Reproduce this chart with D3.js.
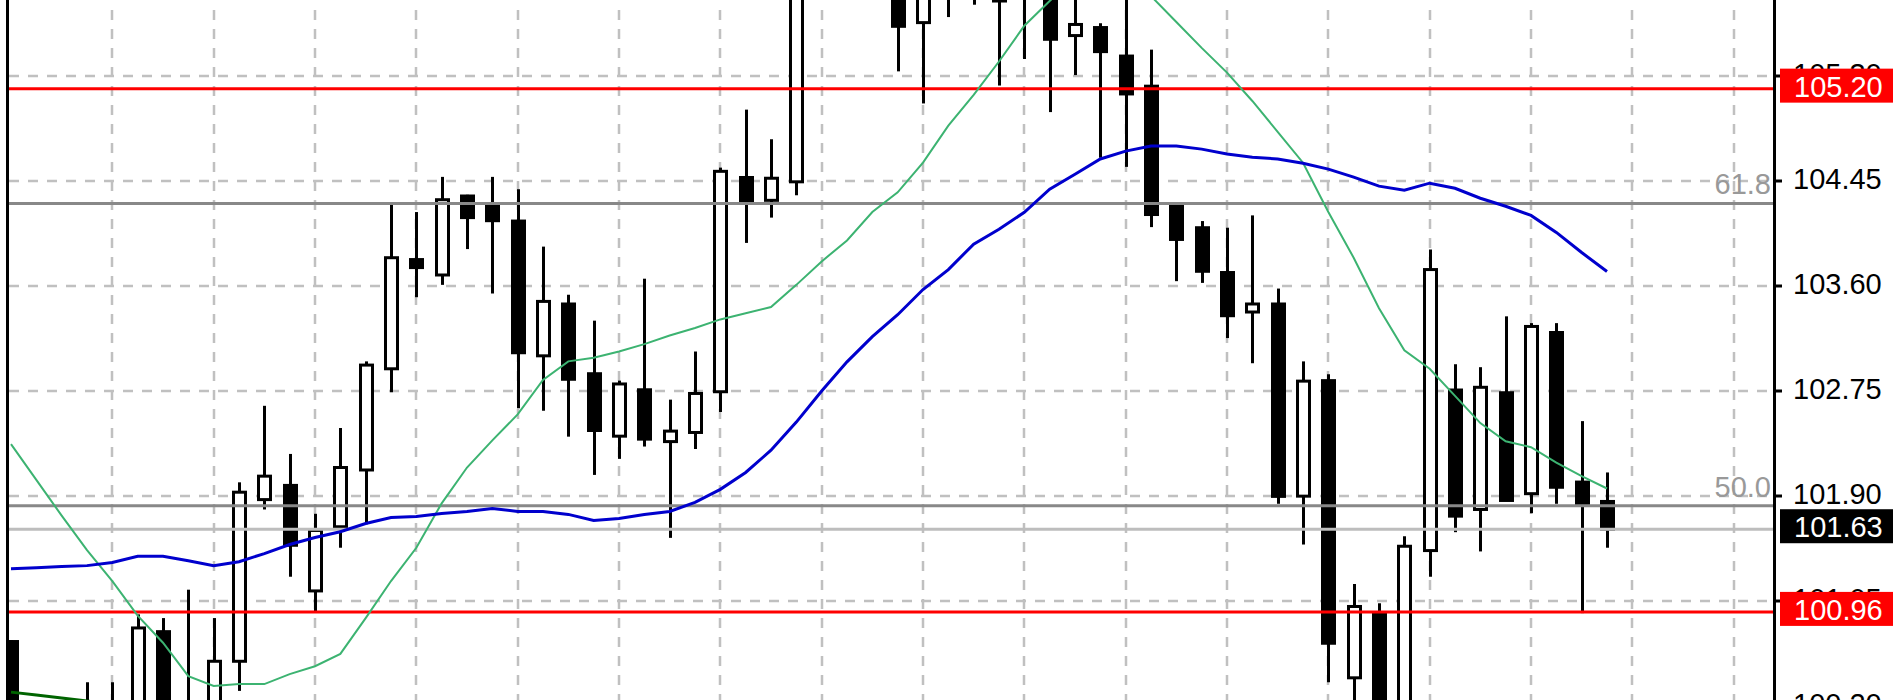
<!DOCTYPE html>
<html><head><meta charset="utf-8">
<script src="https://cdn.jsdelivr.net/npm/d3@7"></script>
<style>html,body{margin:0;padding:0;background:#fff;overflow:hidden}</style>
</head><body>
<svg id="chart" width="1900" height="700"></svg>
<script>
// ---- data (candle index 0..63) ----
const openP = [
  100.72, 100.05, 99.75, 99.95, 100.15, 100.05, 100.80, 100.12, 100.20, 100.56,
  101.87, 101.985, 101.13, 101.65, 102.11, 102.93, 103.815, 103.69, 104.33, 104.255,
  104.127, 103.035, 103.455, 102.89, 102.384, 102.76, 102.34, 102.414, 102.744, 104.48,
  104.295, 104.445, 106.10, 106.30, 106.15, 106.10, 105.735, 106.05, 106.10, 106.00,
  105.95, 106.00, 105.63, 105.695, 105.464, 105.22, 104.255, 104.073, 103.71, 103.39,
  103.455, 101.898, 102.834, 100.426, 100.94, 100.05, 101.457, 102.758, 101.79, 102.736,
  101.918, 103.224, 102.012, 101.855];
const highP = [
  100.73, 100.18, 100.10, 100.39, 100.39, 100.94, 100.91, 101.14, 100.91, 102.01,
  102.63, 102.24, 101.755, 102.45, 102.99, 104.26, 104.20, 104.485, 104.34, 104.485,
  104.385, 103.92, 103.53, 103.32, 102.834, 103.66, 102.68, 103.07, 104.56, 105.03,
  104.79, 106.20, 106.45, 106.50, 106.30, 106.20, 106.15, 106.25, 106.20, 106.10,
  106.15, 106.10, 105.98, 105.73, 105.96, 105.516, 104.26, 104.127, 104.073, 104.173,
  103.58, 102.99, 102.886, 101.186, 101.03, 101.573, 103.897, 102.967, 102.943, 103.355,
  103.30, 103.30, 102.506, 102.09];
const lowP = [
  99.95, 99.60, 99.55, 99.80, 99.90, 99.95, 100.00, 99.90, 100.10, 100.32,
  101.79, 101.245, 100.955, 101.48, 101.67, 102.74, 103.51, 103.61, 103.90, 103.54,
  102.61, 102.59, 102.38, 102.07, 102.20, 102.30, 101.56, 102.28, 102.58, 103.95,
  104.155, 104.336, 105.95, 106.00, 105.95, 105.34, 105.08, 105.78, 105.88, 105.225,
  105.44, 105.01, 105.31, 104.64, 104.566, 104.078, 103.64, 103.626, 103.179, 102.975,
  101.836, 101.506, 100.39, 100.10, 99.95, 99.98, 101.245, 101.606, 101.45, 101.86,
  101.76, 101.836, 100.95, 101.48];
const closeP = [
  100.05, 99.75, 99.95, 100.15, 100.05, 100.83, 100.12, 100.20, 100.56, 101.93,
  102.06, 101.50, 101.62, 102.13, 102.96, 103.83, 103.75, 104.30, 104.155, 104.13,
  103.06, 103.476, 102.845, 102.43, 102.807, 102.36, 102.425, 102.73, 104.53, 104.285,
  104.474, 106.10, 106.30, 106.15, 106.00, 105.705, 106.05, 106.10, 106.00, 105.91,
  106.05, 105.60, 105.72, 105.50, 105.157, 104.18, 103.978, 103.72, 103.36, 103.455,
  101.896, 102.83, 100.706, 101.004, 100.05, 101.492, 103.734, 101.736, 102.78, 101.863,
  103.273, 101.97, 101.836, 101.63];

const maFast = [
  102.32, 102.03, 101.74, 101.46, 101.21, 100.93, 100.71, 100.44, 100.36, 100.375,
  100.375, 100.456, 100.52, 100.62, 100.91, 101.21, 101.48, 101.84, 102.13, 102.35,
  102.56, 102.84, 102.99, 103.02, 103.07, 103.13, 103.20, 103.26, 103.33, 103.38,
  103.43, 103.61, 103.80, 103.97, 104.20, 104.36, 104.60, 104.90, 105.15, 105.42,
  105.71, 105.91, 106.10, 106.20, 106.15, 105.95, 105.74, 105.53, 105.33, 105.10,
  104.85, 104.60, 104.20, 103.83, 103.42, 103.08, 102.93, 102.71, 102.49, 102.343,
  102.295, 102.17, 102.06, 101.96];
const maSlow = [
  101.31, 101.318, 101.327, 101.335, 101.36, 101.41, 101.41, 101.375, 101.335, 101.367,
  101.432, 101.506, 101.563, 101.61, 101.676, 101.725, 101.733, 101.758, 101.774, 101.798,
  101.774, 101.774, 101.75, 101.70, 101.717, 101.75, 101.774, 101.847, 101.953, 102.09,
  102.27, 102.498, 102.75, 102.986, 103.19, 103.368, 103.572, 103.734, 103.94, 104.06,
  104.198, 104.385, 104.507, 104.63, 104.694, 104.735, 104.735, 104.71, 104.67, 104.645,
  104.63, 104.596, 104.548, 104.483, 104.41, 104.377, 104.434, 104.393, 104.312, 104.247,
  104.173, 104.035, 103.872, 103.718];
const maLong = [100.31, 100.286, 100.262, 100.238, 100.21, 100.18];

const tickValues = [105.30, 104.45, 103.60, 102.75, 101.90, 101.05, 100.20];
const tickLabels = ["105.30", "104.45", "103.60", "102.75", "101.90", "101.05", "100.20"];
const redLevels = [105.20, 100.96];
const redLabels = ["105.20", "100.96"];
const fibLevels = [104.27, 101.82];
const fibLabels = ["61.8", "50.0"];
const bidPrice = 101.63;
const bidLabel = "101.63";
const gridIdx = d3.range(4, 69, 4);

// ---- layout ----
const W = 1900, H = 700;
const plotL = 9, plotR = 1773, axisX = 1774.5;
const FONT = "'Liberation Sans', Arial, sans-serif";

const x = d3.scaleLinear().domain([0, 63]).range([11, 1607]);
const y = d3.scaleLinear().domain([100.20, 105.30]).range([705.7, 76.3]);

const svg = d3.select("#chart");
svg.append("rect").attr("width", W).attr("height", H).attr("fill", "#fff");

svg.append("defs").append("clipPath").attr("id", "plotclip")
  .append("rect").attr("x", plotL).attr("y", 0).attr("width", plotR - plotL).attr("height", H);

const plot = svg.append("g").attr("clip-path", "url(#plotclip)");

// grid
plot.append("g").selectAll("line").data(tickValues).join("line")
  .attr("x1", plotL).attr("x2", plotR)
  .attr("y1", d => Math.round(y(d))).attr("y2", d => Math.round(y(d)))
  .attr("stroke", "#c0c0c0").attr("stroke-width", 2.5).attr("stroke-dasharray", "10,9");
plot.append("g").selectAll("line").data(gridIdx).join("line")
  .attr("x1", d => Math.round(x(d))).attr("x2", d => Math.round(x(d)))
  .attr("y1", 10).attr("y2", H)
  .attr("stroke", "#c0c0c0").attr("stroke-width", 2.5).attr("stroke-dasharray", "10,9");

// candles
const idx = d3.range(openP.length);
const cg = plot.append("g");
cg.selectAll("line.wick").data(idx).join("line").attr("class", "wick")
  .attr("x1", i => Math.round(x(i)) + 0.5).attr("x2", i => Math.round(x(i)) + 0.5)
  .attr("y1", i => y(highP[i])).attr("y2", i => y(lowP[i]))
  .attr("stroke", "#000").attr("stroke-width", 3);
cg.selectAll("rect.body").data(idx).join("rect").attr("class", "body")
  .attr("x", i => Math.round(x(i)) - 5.5)
  .attr("width", 12)
  .attr("y", i => y(Math.max(openP[i], closeP[i])))
  .attr("height", i => Math.max(0.5, Math.abs(y(openP[i]) - y(closeP[i]))))
  .attr("fill", i => closeP[i] >= openP[i] ? "#fff" : "#000")
  .attr("stroke", "#000").attr("stroke-width", 3);

// horizontal levels
plot.selectAll("line.fib").data(fibLevels).join("line").attr("class", "fib")
  .attr("x1", plotL).attr("x2", plotR)
  .attr("y1", d => y(d)).attr("y2", d => y(d))
  .attr("stroke", "#888").attr("stroke-width", 3);
plot.append("line").attr("x1", plotL).attr("x2", plotR)
  .attr("y1", y(bidPrice)).attr("y2", y(bidPrice))
  .attr("stroke", "#bdbdbd").attr("stroke-width", 3);
plot.selectAll("line.red").data(redLevels).join("line").attr("class", "red")
  .attr("x1", plotL).attr("x2", plotR)
  .attr("y1", d => y(d)).attr("y2", d => y(d))
  .attr("stroke", "#ff0000").attr("stroke-width", 3);

// moving averages
const line = d3.line().x((d, i) => x(i)).y(d => y(d));
plot.append("path").datum(maLong).attr("d", line)
  .attr("fill", "none").attr("stroke", "#006400").attr("stroke-width", 3);
plot.append("path").datum(maFast).attr("d", line)
  .attr("fill", "none").attr("stroke", "#3cb371").attr("stroke-width", 2);
plot.append("path").datum(maSlow).attr("d", line)
  .attr("fill", "none").attr("stroke", "#0000cd").attr("stroke-width", 3);

// fib labels
plot.selectAll("text.fibl").data(fibLevels).join("text").attr("class", "fibl")
  .attr("x", 1771).attr("y", d => y(d) - 9)
  .attr("text-anchor", "end").attr("font-family", FONT).attr("font-size", 29)
  .attr("fill", "#999").text((d, i) => fibLabels[i]);

// frame lines
svg.append("line").attr("x1", 7.5).attr("x2", 7.5).attr("y1", 0).attr("y2", H)
  .attr("stroke", "#000").attr("stroke-width", 3);
svg.append("line").attr("x1", axisX).attr("x2", axisX).attr("y1", 0).attr("y2", H)
  .attr("stroke", "#000").attr("stroke-width", 3);

// price axis
const ax = svg.append("g");
ax.selectAll("line").data(tickValues).join("line")
  .attr("x1", 1776).attr("x2", 1782)
  .attr("y1", d => Math.round(y(d))).attr("y2", d => Math.round(y(d)))
  .attr("stroke", "#000").attr("stroke-width", 3);
ax.selectAll("text").data(tickValues).join("text")
  .attr("x", 1793).attr("y", d => y(d) + 8)
  .attr("font-family", FONT).attr("font-size", 29).attr("fill", "#000")
  .text((d, i) => tickLabels[i]);

// level labels
function levelBox(v, label, color) {
  const g = svg.append("g");
  g.append("rect").attr("x", 1780).attr("y", y(v) - 20).attr("width", 113).attr("height", 34)
    .attr("fill", color);
  g.append("text").attr("x", 1794).attr("y", y(v) + 8)
    .attr("font-family", FONT).attr("font-size", 29).attr("fill", "#fff").text(label);
}
redLevels.forEach((v, i) => levelBox(v, redLabels[i], "#ff0000"));
levelBox(bidPrice, bidLabel, "#000");
</script>
</body></html>
